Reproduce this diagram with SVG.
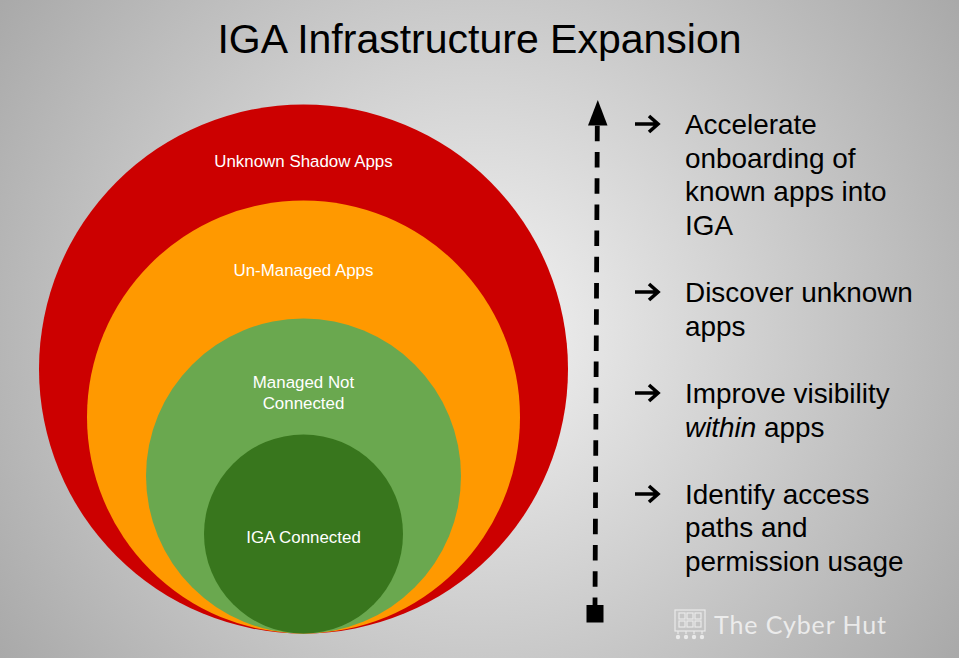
<svg xmlns="http://www.w3.org/2000/svg" width="959" height="658" viewBox="0 0 959 658">
<style>
text{font-family:"Liberation Sans",Arial,sans-serif}
.t{font-size:27.9px;fill:#000}
.n{font-size:16.9px;fill:#fff;text-anchor:middle}
.b{fill:none;stroke:#000;stroke-width:3.6}
</style>
<defs>
<radialGradient id="bg" gradientUnits="userSpaceOnUse" cx="479.5" cy="329" r="580">
<stop offset="0" stop-color="#f3f3f3"/><stop offset="1" stop-color="#a9a9a9"/>
</radialGradient>
</defs>
<rect width="959" height="658" fill="url(#bg)"/>
<text x="479.5" y="53" text-anchor="middle" font-size="41" fill="#000">IGA Infrastructure Expansion</text>
<g id="shadow"><circle cx="303.500" cy="369" r="264.500" fill="#cc0000"/><text class="n" x="303.500" y="167">Unknown Shadow Apps</text></g>
<g id="unmanaged"><circle cx="303.500" cy="417" r="216.500" fill="#ff9900"/><text class="n" x="303.500" y="276">Un-Managed Apps</text></g>
<g id="managed"><circle cx="303.500" cy="476" r="157.500" fill="#6aa84f"/><text class="n" x="303.500" y="388">Managed Not</text><text class="n" x="303.500" y="409">Connected</text></g>
<g id="connected"><circle cx="303.500" cy="534" r="99.500" fill="#38761d"/><text class="n" x="303.500" y="543">IGA Connected</text></g>
<g id="connectors">
<line x1="597.300" y1="125.800" x2="595" y2="606" stroke="#000" stroke-width="4.800" stroke-dasharray="15.500 10.700"/>
<path d="M597.800 100L588 125.500H607.500Z" fill="#000"/>
<rect x="586.500" y="605" width="17" height="17.500" fill="#000"/>
</g>
<g id="list">
<g id="item1"><path class="b" d="M635 124H657M649 116L658 124L649 132"/><text class="t" x="685" y="134">Accelerate</text><text class="t" x="685" y="168">onboarding of</text><text class="t" x="685" y="201">known apps into</text><text class="t" x="685" y="235">IGA</text></g>
<g id="item2"><path class="b" d="M635 292H657M649 284L658 292L649 300"/><text class="t" x="685" y="302">Discover unknown</text><text class="t" x="685" y="336">apps</text></g>
<g id="item3"><path class="b" d="M635 393H657M649 385L658 393L649 401"/><text class="t" x="685" y="403">Improve visibility</text><text class="t" x="685" y="437"><tspan font-style="italic">within</tspan> apps</text></g>
<g id="item4"><path class="b" d="M635 494H657M649 486L658 494L649 502"/><text class="t" x="685" y="504">Identify access</text><text class="t" x="685" y="537">paths and</text><text class="t" x="685" y="571">permission usage</text></g>
</g>
<g id="logo" fill="none" stroke="#f1f1f1" stroke-width="1.200" opacity=".85">
<rect x="675" y="610" width="30" height="21"/><rect x="679" y="613" width="6" height="6"/><rect x="687" y="613" width="6" height="6"/><rect x="695" y="613" width="6" height="6"/><rect x="679" y="621" width="6" height="6"/><rect x="687" y="621" width="6" height="6"/><rect x="695" y="621" width="6" height="6"/>
<path d="M678 631v3M686 631v3M694 631v3M702 631v3"/>
<g fill="#f1f1f1" stroke="none"><circle cx="678" cy="637" r="2.200"/><circle cx="686" cy="637" r="2.200"/><circle cx="694" cy="637" r="2.200"/><circle cx="702" cy="637" r="2.200"/></g>
<text x="714" y="634" font-size="25" fill="#f4f4f4" stroke="none" style="font-family:Lato,sans-serif" letter-spacing=".9">The Cyber Hut</text>
</g>
</svg>
